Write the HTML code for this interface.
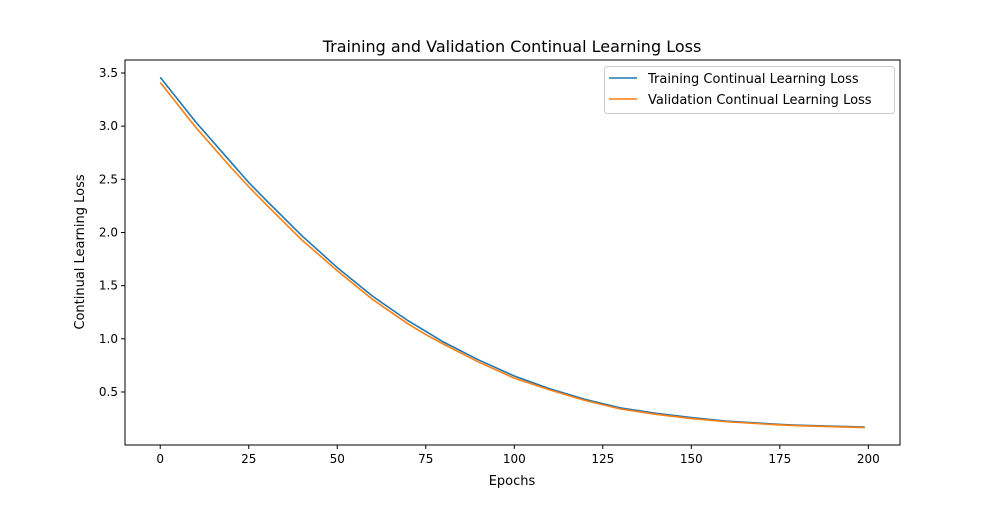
<!DOCTYPE html>
<html><head><meta charset="utf-8"><style>
body{margin:0;background:#fff;}
svg text{font-family:"DejaVu Sans","Liberation Sans",sans-serif;fill:#000;}
</style></head><body>
<svg id="chart" width="1000" height="500">
<rect x="0" y="0" width="1000" height="500" fill="#fff"/>
<text x="512" y="52" font-size="16" text-anchor="middle">Training and Validation Continual Learning Loss</text>
<g id="plot"></g>
<text x="512" y="485" font-size="13" text-anchor="middle">Epochs</text>
<text x="0" y="0" font-size="13" text-anchor="middle" transform="translate(84,252) rotate(-90)">Continual Learning Loss</text>
</svg>
<script>
const epochs=[0,10,20,25,30,40,50,60,70,75,80,90,100,110,120,125,130,140,150,160,170,175,180,190,199];
const trainLoss=[3.46,3.04,2.66,2.47,2.30,1.97,1.67,1.40,1.17,1.07,0.97,0.80,0.65,0.53,0.43,0.39,0.35,0.30,0.26,0.225,0.205,0.195,0.188,0.178,0.17];
const valLoss=[3.41,2.99,2.61,2.43,2.26,1.93,1.64,1.37,1.14,1.04,0.95,0.78,0.63,0.52,0.42,0.38,0.34,0.29,0.25,0.22,0.20,0.19,0.183,0.174,0.165];
const xTicks=[0,25,50,75,100,125,150,175,200];
const yTicks=[0.5,1.0,1.5,2.0,2.5,3.0,3.5];
const yTickLabels=["0.5","1.0","1.5","2.0","2.5","3.0","3.5"];
const L=125,R=900,T=60,B=445;
const xMin=-9.95,xMax=208.95,yMin=0.0014,yMax=3.622;
const sx=v=>L+(v-xMin)/(xMax-xMin)*(R-L);
const sy=v=>B-(v-yMin)/(yMax-yMin)*(B-T);
const NS="http://www.w3.org/2000/svg";
const g=document.getElementById('plot');
function mk(tag,attrs){const e=document.createElementNS(NS,tag);for(const k in attrs)e.setAttribute(k,attrs[k]);g.appendChild(e);return e;}
xTicks.forEach(t=>{
 const l=mk('line',{x1:sx(t),x2:sx(t),y1:B,y2:B+4,stroke:'#000','stroke-width':1});
 
 
 const tx=mk('text',{x:sx(t),y:B+18,'font-size':12,'text-anchor':'middle'});tx.textContent=t;
 
 
});
yTicks.forEach((t,i)=>{
 const l=mk('line',{x1:L-4,x2:L,y1:sy(t),y2:sy(t),stroke:'#000','stroke-width':1});
 
 
 const tx=mk('text',{x:L-7,y:sy(t)+4,'font-size':12,'text-anchor':'end'});tx.textContent=yTickLabels[i];
 
 
});
function series(vals,color,name){
 const p=mk('polyline',{points:epochs.map((e,i)=>sx(e)+','+sy(vals[i])).join(' '),fill:'none',stroke:color,'stroke-width':1.6,'stroke-linejoin':'round'});
 
 
}
series(trainLoss,'#1f77b4','training-loss-line');
series(valLoss,'#ff7f0e','validation-loss-line');
const frame=mk('rect',{x:L,y:T,width:R-L,height:B-T,fill:'none',stroke:'#000','stroke-width':1});


const lg=mk('rect',{x:604.5,y:66.5,width:290,height:47,fill:'#fff',stroke:'#ccc',rx:3});


[['Training Continual Learning Loss','#1f77b4',78],['Validation Continual Learning Loss','#ff7f0e',99]].forEach(([t,c,y])=>{
 const l=mk('line',{x1:609,x2:637,y1:y,y2:y,stroke:c,'stroke-width':1.6});
 
 
 const tx=mk('text',{x:648,y:y+5,'font-size':13});tx.textContent=t;
 
 
});
</script>
</body></html>
